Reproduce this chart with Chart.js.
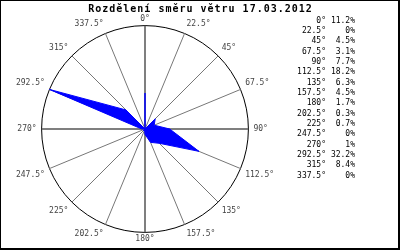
<!DOCTYPE html>
<html>
<head>
<meta charset="utf-8">
<script src="https://cdn.jsdelivr.net/npm/chart.js@4.4.1/dist/chart.umd.min.js"></script>
<style>
  html, body { margin: 0; padding: 0; background: #fff; }
  canvas { display: block; }
</style>
</head>
<body>
<canvas id="myChart" width="400" height="250"></canvas>
<script>
const chartTitle = "Rozdělení směru větru 17.03.2012";
// wind directions in degrees and share of time in %
const directions = [0, 22.5, 45, 67.5, 90, 112.5, 135, 157.5, 180, 202.5, 225, 247.5, 270, 292.5, 315, 337.5];
const shares = [11.2, 0, 4.5, 3.1, 7.7, 18.2, 6.3, 4.5, 1.7, 0.3, 0.7, 0, 1, 32.2, 8.4, 0];

const monoFont = "'DejaVu Sans Mono', 'Liberation Mono', monospace";

// title, list of values on the right, frame round the picture
const decorPlugin = {
    id: 'decor',
    afterDraw(chart) {
        const ctx = chart.ctx;
        ctx.save();
        ctx.fillStyle = '#000';
        ctx.font = 'bold 10px ' + monoFont;
        ctx.letterSpacing = '1px';
        ctx.textAlign = 'center';
        ctx.textBaseline = 'middle';
        ctx.fillText(chartTitle, 200.5, 9.5);

        ctx.letterSpacing = '0px';
        ctx.font = '8px ' + monoFont;
        ctx.textAlign = 'right';
        directions.forEach((d, i) => {
            const y = 20.5 + i * 10.33;
            ctx.fillText(d + '°', 326, y);
            ctx.fillText(shares[i] + '%', 355, y);
        });

        ctx.fillRect(0, 0, 400, 1);
        ctx.fillRect(0, 0, 1, 250);
        ctx.fillRect(398, 0, 2, 250);
        ctx.fillRect(0, 248, 400, 2);
        ctx.restore();
    }
};

const ctx = document.getElementById('myChart').getContext('2d');
const myChart = new Chart(ctx, {
    type: 'radar',
    data: {
        labels: directions.map(d => d + '°'),
        datasets: [{
            data: shares,
            backgroundColor: '#0000ff',
            borderColor: '#0000ff',
            borderWidth: 1,
            fill: true,
            pointRadius: 0,
            tension: 0
        }]
    },
    options: {
        responsive: false,
        animation: false,
        devicePixelRatio: 1,
        layout: { padding: { left: 0, right: 110, top: 15, bottom: 5 } },
        plugins: {
            legend: { display: false },
            tooltip: { enabled: false }
        },
        scales: {
            r: {
                min: 0,
                max: Math.max(...shares),
                ticks: { display: false, stepSize: Math.max(...shares) },
                grid: { circular: true, color: '#000', lineWidth: 1 },
                angleLines: {
                    color: c => c.index % 4 === 0 ? '#555' : '#777',
                    lineWidth: c => c.index % 4 === 0 ? 1.5 : 1
                },
                pointLabels: {
                    font: { family: monoFont, size: 8 },
                    color: '#444',
                    padding: c => c.index % 8 === 0 ? 2 : 5
                }
            }
        }
    },
    plugins: [decorPlugin]
});
</script>
</body>
</html>
